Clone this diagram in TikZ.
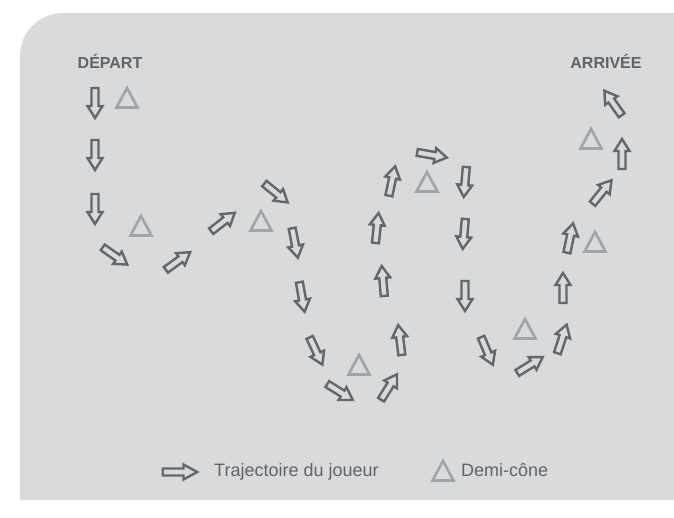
\documentclass[tikz,border=0pt]{standalone}
\usepackage{fontspec}
\setmainfont{Liberation Sans}
\definecolor{fond}{HTML}{D9DADB}
\definecolor{fleche}{HTML}{62676B}
\definecolor{cone}{HTML}{9BA5AA}
\definecolor{texte}{HTML}{5F6468}
\definecolor{legende}{HTML}{5F6367}

\tikzset{
    traj/.pic={\draw[fleche, line width=2.4pt, line join=miter] (-15,-3.5) -- (3,-3.5) -- (3,-7.5) -- (15,0) -- (3,7.5) -- (3,3.5) -- (-15,3.5) -- cycle;},
    demicone/.pic={\draw[cone, line width=2.6pt, line join=miter] (0,-11) -- (10.5,8.5) -- (-10.5,8.5) -- cycle;},
    titre/.style={text=texte, font=\fontsize{16}{18}\selectfont\bfseries, anchor=base, inner sep=0pt},
    legtexte/.style={text=legende, font=\fontsize{18}{20}\selectfont, anchor=base west, inner sep=0pt}
}

\begin{document}
\begin{tikzpicture}[x=1pt, y=-1pt]
        \useasboundingbox (0,0) rectangle (674,518);
        \fill [fond] (20,500) -- (20,56) arc[start angle=180, end angle=270, radius=43] -- (674,13) -- (674,500) -- cycle;

        \node [titre] (depart) at (110,69) {DÉPART};
        \node [titre] (arrivee) at (606,68.5) {ARRIVÉE};

        % demi-cones
        \pic at (127,99) {demicone};
        \pic at (141,227) {demicone};
        \pic at (261,222) {demicone};
        \pic at (359,366) {demicone};
        \pic at (427,183) {demicone};
        \pic at (525,330) {demicone};
        \pic at (595,243) {demicone};
        \pic at (591,140) {demicone};

        % trajectoire
        \pic [rotate=-90] at (95,103) {traj};
        \pic [rotate=-90] at (95,155) {traj};
        \pic [rotate=-90] at (95,209) {traj};
        \pic [rotate=-35] at (115,256) {traj};
        \pic [rotate=36] at (178,261) {traj};
        \pic [rotate=38] at (223,222) {traj};
        \pic [rotate=-39] at (276,193) {traj};
        \pic [rotate=-79] at (295,243) {traj};
        \pic [rotate=-80] at (302,297) {traj};
        \pic [rotate=-65] at (316,351) {traj};
        \pic [rotate=-32] at (340,392) {traj};
        \pic [rotate=58] at (389,387) {traj};
        \pic [rotate=97] at (400,340) {traj};
        \pic [rotate=95] at (383,281) {traj};
        \pic [rotate=84] at (377,228) {traj};
        \pic [rotate=78] at (392,181) {traj};
        \pic [rotate=-10] at (432,155) {traj};
        \pic [rotate=-95] at (465,182) {traj};
        \pic [rotate=-95] at (464,234) {traj};
        \pic [rotate=-90] at (465,296) {traj};
        \pic [rotate=-67] at (487,351) {traj};
        \pic [rotate=32] at (530,365) {traj};
        \pic [rotate=72] at (562,339) {traj};
        \pic [rotate=90] at (563,288) {traj};
        \pic [rotate=78] at (570,238) {traj};
        \pic [rotate=51] at (602,192) {traj};
        \pic [rotate=90] at (622,154) {traj};
        \pic [rotate=125] at (613,103) {traj};

        % legende
        \pic [xscale=1.15] at (180,472) {traj};
        \node [legtexte] (legtraj) at (214,476) {Trajectoire du joueur};
        \pic at (443,472) {demicone};
        \node [legtexte] (legcone) at (461,476) {Demi-cône};
\end{tikzpicture}
\end{document}
